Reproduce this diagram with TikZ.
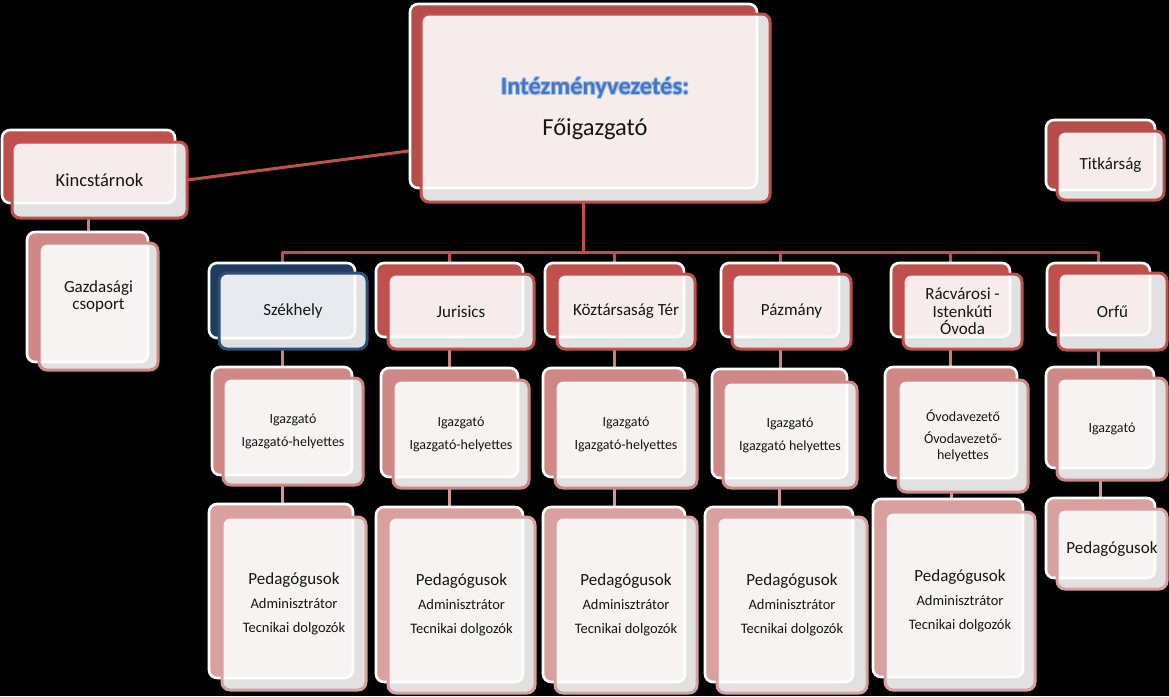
\documentclass[tikz,border=0pt]{standalone}
\usepackage{fontspec}
\setmainfont{Carlito}
\usetikzlibrary{fit,calc}
\definecolor{redA}{HTML}{C0504D}
\definecolor{redD}{HTML}{B54D4A}
\definecolor{redB}{HTML}{CF8886}
\definecolor{redC}{HTML}{D8A09F}
\definecolor{blueA}{HTML}{1F3B60}
\definecolor{blueB}{HTML}{2E4E76}
\definecolor{pinkA}{HTML}{F5ECEB}
\definecolor{pinkB}{HTML}{F8F3F3}
\definecolor{greyF}{HTML}{E8EAEF}
\definecolor{shadowgray}{HTML}{E1E1E1}
\definecolor{txt}{HTML}{161616}
\definecolor{lineB}{HTML}{CC7F7D}
\definecolor{lineC}{HTML}{D49795}
\definecolor{titleblue}{HTML}{4676C2}
\definecolor{glowblue}{HTML}{A9C3E8}
\pgfdeclarelayer{bgl}
\pgfdeclarelayer{conn}
\pgfsetlayers{bgl,conn,main}
\tikzset{
  backbox/.style={inner sep=0pt, rounded corners=8pt, draw=white, line width=2.6pt},
  boxtext/.style={align=center, text=txt, inner sep=0pt},
  conn1/.style={draw=redA, line width=3pt},
  conn2/.style={draw=lineB, line width=3pt},
  conn3/.style={draw=lineC, line width=3pt},
}
\newcommand\fL{\fontsize{17}{17.5}\selectfont}
\newcommand\fK{\fontsize{18.5}{20}\selectfont}
\newcommand\fM{\fontsize{14}{17}\selectfont}
\newcommand\fO{\fontsize{14}{16}\selectfont}
\newcommand\fP{\fontsize{17}{24}\selectfont}
\newcommand\fS{\fontsize{14.5}{24}\selectfont}
\newcommand\curfont{\fL}
\newcommand\tys{0pt}
% #1 name, #2 back TL, #3 back BR, #4 front TL, #5 front BR, #6 back colour, #7 front border, #8 front fill, #9 text
\newcommand\obox[9]{%
  \node[backbox, fill=#6, fit={(#2)(#3)}] (#1) {};
  \node[fit={(#4)(#5)}, inner sep=0pt, fill=shadowgray, rounded corners=8pt] (#1-f) {};
  \begin{scope}
    \clip[rounded corners=8pt] (#4) rectangle (#5);
    \fill[#8, rounded corners=8pt] (#2) rectangle (#3);
    \draw[white, line width=2.6pt, rounded corners=8pt] (#2) rectangle (#3);
  \end{scope}
  \draw[#7, line width=3pt, rounded corners=8pt] (#4) rectangle (#5);
  \node[boxtext, font=\curfont] (#1-t) at ([yshift=\tys]#1-f.center) {#9};
}
\begin{document}
\begin{tikzpicture}[x=1pt,y=-1pt]
\begin{pgfonlayer}{bgl}
\fill[black] (0,0) rectangle (1169,696);
\end{pgfonlayer}
\useasboundingbox (0,0) rectangle (1169,696);

% top level
\obox{main}{410,4}{757,188}{421,14}{770,202}{redD}{redA}{pinkA}{}
\renewcommand\curfont{\fK}
\obox{kinc}{2,130}{175,203}{12,142}{187,218}{redA}{redA}{pinkA}{Kincstárnok}
\renewcommand\curfont{\fL}
\renewcommand\tys{10pt}
\obox{gazd}{27,232}{148,362}{39,243}{158,370}{redB}{redB}{pinkB}{Gazdasági\\ csoport}
\renewcommand\tys{0pt}
\obox{titk}{1046,120}{1155,190}{1057,131}{1164,200}{redD}{redD}{pinkA}{Titkárság}

% title text
\foreach \dx/\dy in {0.9/0,-0.9/0,0/0.9,0/-0.9,0.7/0.7,-0.7/0.7,0.7/-0.7,-0.7/-0.7}
  \node[inner sep=0pt, text=glowblue, font=\fontsize{24.5}{26}\selectfont\bfseries] at ($(595,88)+(\dx,\dy)$) {Intézményvezetés:};
\node[inner sep=0pt, text=titleblue, font=\fontsize{24.5}{26}\selectfont\bfseries] (title) at (595,88) {Intézményvezetés:};
\node[boxtext, font=\fontsize{24.5}{26}\selectfont] (chief) at (595,129) {Főigazgató};

% level 1
\obox{szek}{209,263}{355,338}{219,273}{367,349}{blueA}{blueB}{greyF}{Székhely}
\obox{juri}{376,263}{523,337}{388,274}{534,349}{redA}{redA}{pinkA}{Jurisics}
\obox{kozt}{545,263}{684,337}{557,274}{695,349}{redA}{redA}{pinkA}{Köztársaság Tér}
\obox{pazm}{721,263}{839,337}{732,274}{851,349}{redA}{redA}{pinkA}{Pázmány}
\obox{racv}{891,263}{1010,337}{903,274}{1022,349}{redA}{redA}{pinkA}{Rácvárosi -\\ Istenkúti\\ Óvoda}
\obox{orfu}{1047,263}{1150,335}{1058,273}{1167,350}{redA}{redA}{pinkA}{Orfű}

% level 2
\renewcommand\curfont{\fM}
\obox{szek2}{212,367}{352,475}{223,378}{363,485}{redB}{redB}{pinkB}{Igazgató\\[6pt] Igazgató-helyettes}
\obox{juri2}{381,368}{518,477}{393,380}{529,488}{redB}{redB}{pinkB}{Igazgató\\[6pt] Igazgató-helyettes}
\obox{kozt2}{543,368}{685,477}{555,380}{697,488}{redB}{redB}{pinkB}{Igazgató\\[6pt] Igazgató-helyettes}
\obox{pazm2}{712,369}{847,478}{723,382}{857,488}{redB}{redB}{pinkB}{Igazgató\\[6pt] Igazgató helyettes}
\renewcommand\curfont{\fO}
\obox{racv2}{885,367}{1017,478}{898,380}{1028,492}{redB}{redB}{pinkB}{Óvodavezető\\[6pt] Óvodavezető-\\ helyettes}
\renewcommand\curfont{\fM}
\obox{orfu2}{1046,367}{1154,468}{1057,378}{1167,480}{redB}{redB}{pinkB}{Igazgató}

% level 3
\renewcommand\curfont{\fS}
\obox{szek3}{209,504}{353,678}{222,517}{366,690}{redC}{redC}{pinkB}{{\fP Pedagógusok}\\ Adminisztrátor\\ Tecnikai dolgozók}
\obox{juri3}{376,507}{523,682}{388,517}{535,693}{redC}{redC}{pinkB}{{\fP Pedagógusok}\\ Adminisztrátor\\ Tecnikai dolgozók}
\obox{kozt3}{543,507}{685,682}{555,517}{697,693}{redC}{redC}{pinkB}{{\fP Pedagógusok}\\ Adminisztrátor\\ Tecnikai dolgozók}
\obox{pazm3}{705,507}{853,682}{717,517}{867,693}{redC}{redC}{pinkB}{{\fP Pedagógusok}\\ Adminisztrátor\\ Tecnikai dolgozók}
\obox{racv3}{873,499}{1023,677}{885,512}{1035,690}{redC}{redC}{pinkB}{{\fP Pedagógusok}\\ Adminisztrátor\\ Tecnikai dolgozók}
\renewcommand\curfont{\fL}
\obox{orfu3}{1046,498}{1155,578}{1057,509}{1167,589}{redC}{redC}{pinkB}{Pedagógusok}

% connectors
\coordinate (bus) at (583,252);
\begin{pgfonlayer}{conn}
\draw[conn1] (kinc-f.east) -- ([yshift=-55pt]main.west);
\draw[conn1] (main.south) -- (main.south |- bus);
\draw[conn1] (szek.north |- bus) -- (orfu.north |- bus);
\foreach \n in {szek,juri,kozt,pazm,racv,orfu}
  \draw[conn1] (\n.north |- bus) -- (\n.north);
\draw[conn2] (kinc.south) -- (kinc.south |- gazd.north);
\foreach \n in {szek,juri,kozt,pazm,racv,orfu} {
  \draw[conn2] (\n.south) -- (\n.south |- \n2.north);
  \draw[conn3] (\n2.south) -- (\n2.south |- \n3.north);
}
\end{pgfonlayer}
\end{tikzpicture}
\end{document}
